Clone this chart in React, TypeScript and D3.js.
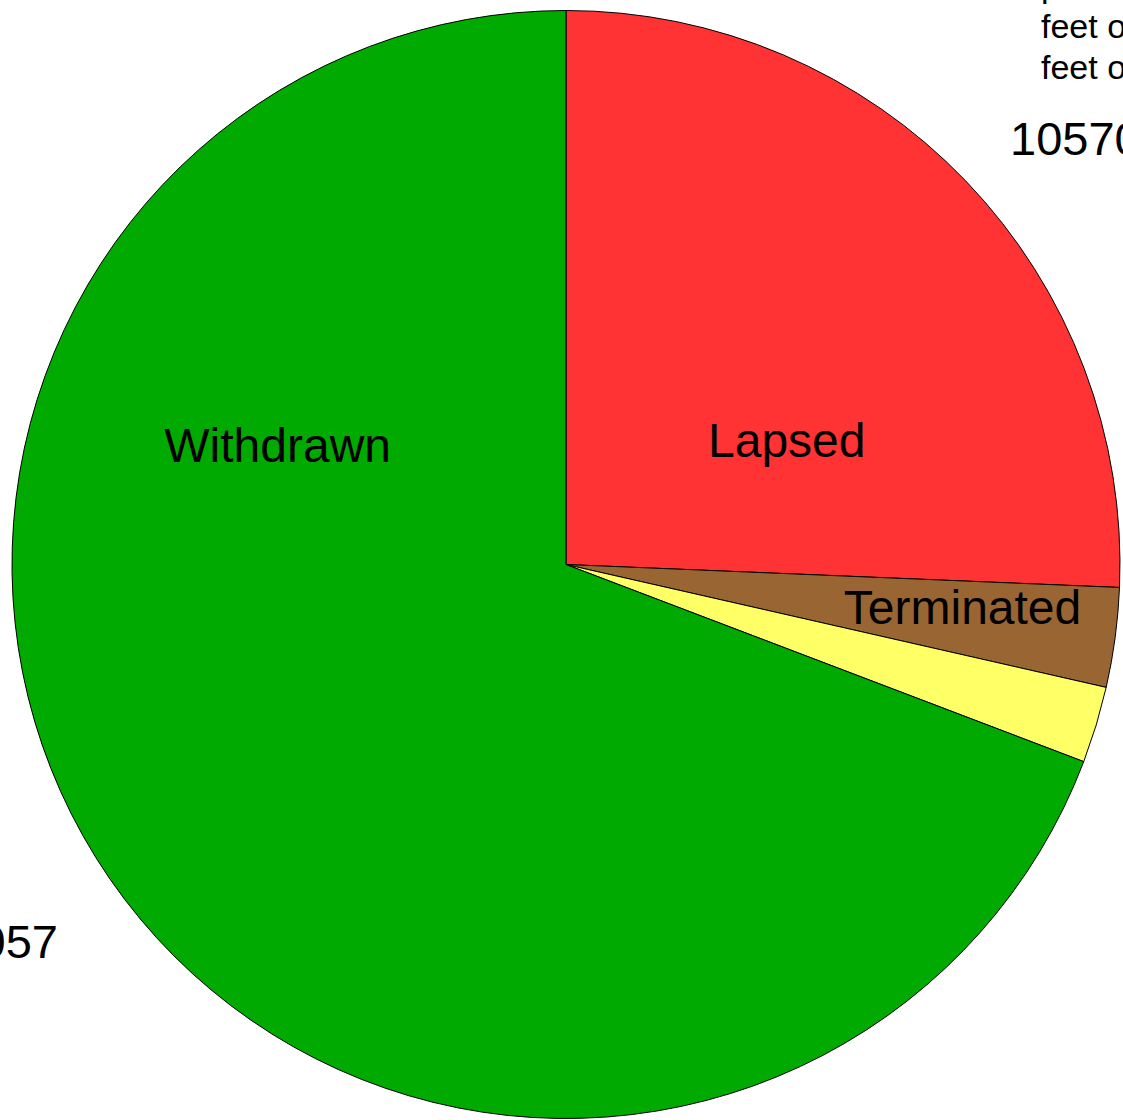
import React from "react";
import * as d3 from "d3";

const categories = ["Lapsed", "Terminated", "Other", "Withdrawn"];
const values = [25.66, 2.9, 2.23, 69.21];
const colors = ["#ff3333", "#996633", "#ffff66", "#00aa00"];
const sliceLabels = ["Lapsed", "Terminated", "", "Withdrawn"];

// label placement (angle in degrees clockwise from 12 o'clock, radius as fraction of pie radius)
const labelPlacement = [
  [60.7, 0.457],
  [96.2, 0.72],
  [0, 0],
  [292.4, 0.563],
];

const W = 1123;
const H = 1120;
const cx = 566;
const cy = 564.5;
const R = 554;

export default function App() {
  const pie = d3
    .pie<number>()
    .sort(null)
    .value((d) => d);
  const arcs = pie(values);
  const arc = d3.arc<d3.PieArcDatum<number>>().innerRadius(0).outerRadius(R);
  const font = "'Liberation Sans', Arial, sans-serif";

  return (
    <svg
      width={W}
      height={H}
      style={{ position: "absolute", left: 0, top: 0, background: "#fff" }}
    >
      <g transform={`translate(${cx},${cy})`}>
        {arcs.map((a, i) => (
          <path
            key={categories[i]}
            d={arc(a) || ""}
            fill={colors[i]}
            stroke="#000"
            strokeWidth={1}
          />
        ))}
        {arcs.map((a, i) => {
          if (!sliceLabels[i]) return null;
          const [ang, rf] = labelPlacement[i];
          const t = (ang * Math.PI) / 180;
          const x = Math.sin(t) * rf * R;
          const y = -Math.cos(t) * rf * R;
          return (
            <text
              key={"l" + i}
              x={x}
              y={y}
              dy="0.35em"
              textAnchor="middle"
              fontFamily={font}
              fontSize={48}
              fill="#000"
            >
              {sliceLabels[i]}
            </text>
          );
        })}
      </g>
      <g fontFamily={font} fill="#000">
        <text x={1041} y={-3} fontSize={34}>
          parcel of land
        </text>
        <text x={1041} y={38} fontSize={34}>
          feet of frontage
        </text>
        <text x={1041} y={79} fontSize={34}>
          feet of depth
        </text>
        <text x={1010} y={155} fontSize={47}>
          10570
        </text>
        <text x={58} y={958} fontSize={47} textAnchor="end">
          1057
        </text>
      </g>
    </svg>
  );
}
